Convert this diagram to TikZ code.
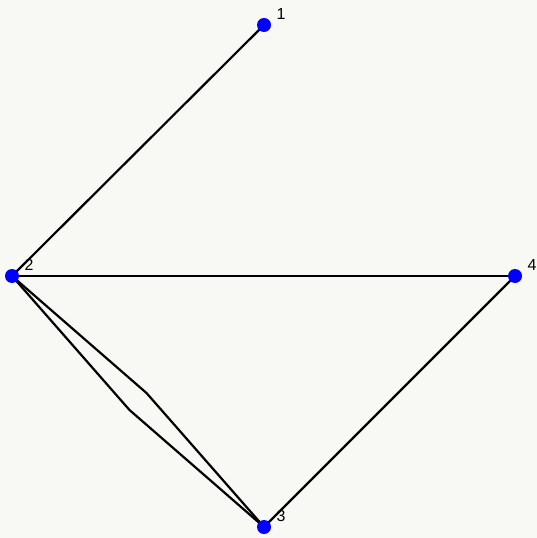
\documentclass[tikz,border=0pt]{standalone}
\usepackage{fontspec}
\setsansfont{Liberation Sans}
\usepackage{xcolor}
\usetikzlibrary{positioning,calc}
\definecolor{paper}{RGB}{248,248,244}
\tikzset{
    vert/.style={circle, fill=blue, inner sep=0pt, minimum size=14bp},
    vlabel/.style={font=\sffamily\fontsize{16}{18}\selectfont, inner sep=0pt},
    edge/.style={line width=2.2bp, black}
}
\begin{document}
\begin{tikzpicture}[x=1bp,y=-1bp]
    % background
    \fill[paper] (0,0) rectangle (537,538);
    \useasboundingbox (0,0) rectangle (537,538);
    % vertices
    \coordinate (p1) at (264,25);
    \coordinate (p2) at (12,276);
    \coordinate (p3) at (264,527);
    \coordinate (p4) at (515,276);
    % bends of the double edge 2--3
    \coordinate (b1) at ($(p2)!0.5!(p3)+(8.5,-8.5)$);
    \coordinate (b2) at ($(p2)!0.5!(p3)+(-8.5,8.5)$);
    % edges
    \draw[edge] (p1) -- (p2);
    \draw[edge] (p2) -- (p4);
    \draw[edge] (p4) -- (p3);
    \draw[edge] (p2) -- (b1) -- (p3);
    \draw[edge] (p2) -- (b2) -- (p3);
    % vertex dots
    \node[vert] (n1) at (p1) {};
    \node[vert] (n2) at (p2) {};
    \node[vert] (n3) at (p3) {};
    \node[vert] (n4) at (p4) {};
    % labels
    \node[vlabel] (l1) at ($(p1)+(17,-11)$) {1};
    \node[vlabel] (l2) at ($(p2)+(17,-11)$) {2};
    \node[vlabel] (l3) at ($(p3)+(17,-11)$) {3};
    \node[vlabel] (l4) at ($(p4)+(17,-11)$) {4};
\end{tikzpicture}
\end{document}
